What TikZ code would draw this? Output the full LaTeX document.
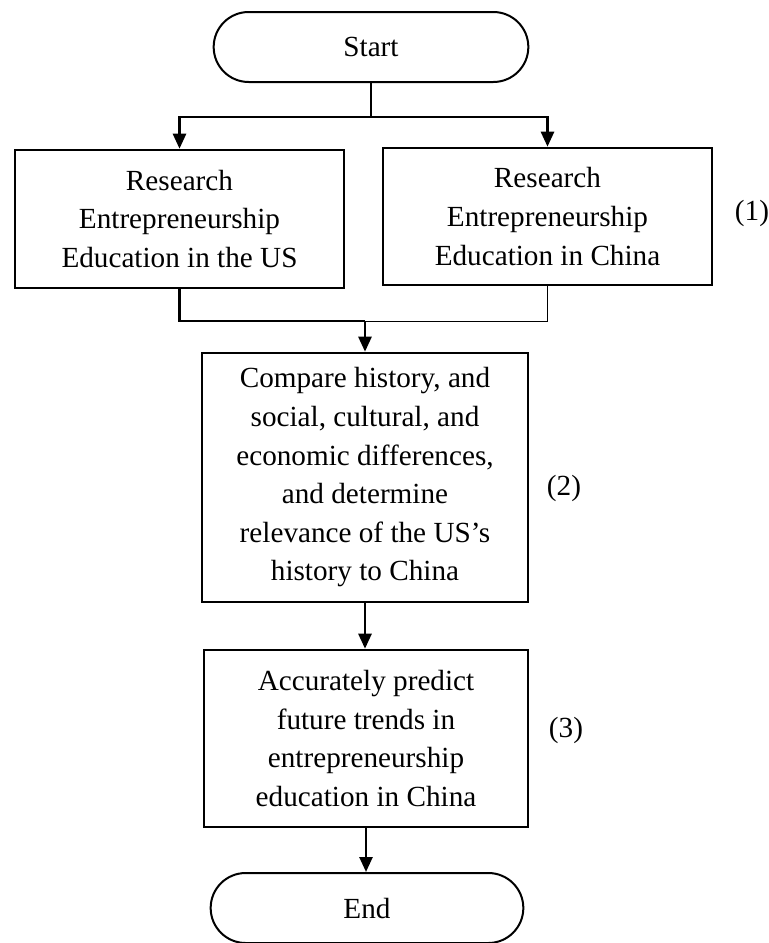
\documentclass[tikz,border=0pt]{standalone}
\usepackage{fontspec}
\setmainfont{Liberation Serif}
\usetikzlibrary{shapes,arrows.meta,calc}
\tikzset{fig/.style={
    line width=1.3pt},
  term/.style={fig,
    rounded rectangle,
    draw,
    line width=1pt,
    minimum width=164pt,
    minimum height=35pt},
  proc/.style={fig,
    rectangle,
    draw,
    align=center,
    inner sep=0pt},
  link/.style={fig,
    -{Triangle[length=7.5pt,width=6.5pt]}}}

\begin{document}
\begin{tikzpicture}[x=0.5pt,y=-0.5pt,font=\fontsize{14.6}{19.3}\selectfont]

\useasboundingbox (0,0) rectangle (769,943);

\coordinate (S) at (371,47);
\coordinate (US) at (179.5,219);
\coordinate (CN) at (547.5,216.5);
\coordinate (C) at (365,477.5);
\coordinate (P) at (366,738.5);
\coordinate (E) at (367,908);

\node[term] (start) at (S) {Start};

\node[proc,
  minimum width=164.5pt,
  minimum height=69pt] (us) at (US) {Research\\Entrepreneurship\\Education in the US};

\node[proc,
  minimum width=164.5pt,
  minimum height=68.5pt] (cn) at (CN) {Research\\Entrepreneurship\\Education in China};

\node[proc,
  minimum width=163pt,
  minimum height=124.5pt] (cmp) at (C) {Compare history, and\\social, cultural, and\\economic differences,\\and determine\\relevance of the US’s\\history to China};

\node[proc,
  minimum width=162pt,
  minimum height=88.5pt] (pred) at (P) {Accurately predict\\future trends in\\entrepreneurship\\education in China};

\node[term,
  minimum width=163pt] (end) at (E) {End};

\node (lab1) at (752,213) {(1)};
\node (lab2) at (564,488) {(2)};
\node (lab3) at (566,730) {(3)};

\draw[fig] (start.south) -- ++(0,34) coordinate (split);
\draw[link] (split) -| (us.north);
\draw[link] (split) -| (cn.north);

\coordinate (join) at (365,321);
\draw[fig] (us.south) |- (join);
\draw[line width=0.5pt] (cn.south) |- (join);
\draw[link] (join) -- (cmp.north);

\draw[link] (cmp.south) -- (cmp.south |- pred.north);
\draw[link] (pred.south) -- (pred.south |- end.north);

\end{tikzpicture}
\end{document}
